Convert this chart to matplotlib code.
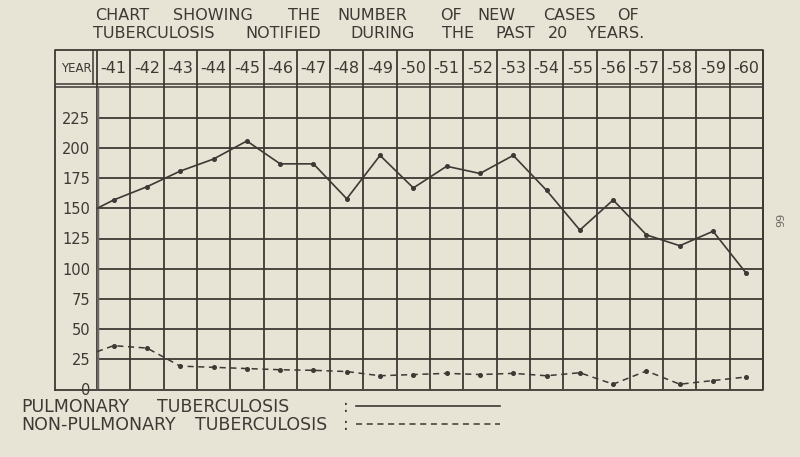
import matplotlib.pyplot as plt
import numpy as np

# colours of the scanned page
paper = '#e7e3d5'
ink = '#3d3934'

plt.rcParams['font.family'] = ['DejaVu Sans']

## data
years = np.arange(1941, 1961)
year_labels = ['-41', '-42', '-43', '-44', '-45', '-46', '-47', '-48', '-49', '-50',
               '-51', '-52', '-53', '-54', '-55', '-56', '-57', '-58', '-59', '-60']
pulmonary = [157, 168, 181, 191, 206, 187, 187, 158, 194, 167,
             185, 179, 194, 165, 132, 157, 128, 119, 131, 96]
non_pulmonary = [36, 34, 19, 18, 17, 16, 15.5, 14.5, 11, 12,
                 13, 12, 13, 11, 13.5, 4, 15, 4, 7, 10]
# value where each curve leaves the left axis
pulmonary_start = 150
non_pulmonary_start = 31
yticks = [0, 25, 50, 75, 100, 125, 150, 175, 200, 225]

## figure layout (pixels of an 800x457 image)
W, H = 800, 457
fig = plt.figure(figsize=(W / 100, H / 100), dpi=100, facecolor=paper)
ax = fig.add_axes([97 / W, 1 - 389 / H, (763 - 97) / W, (389 - 88) / H])
ax.set_facecolor(paper)
x0, x1 = years[0] - 0.5, years[-1] + 0.5
ymax = 250
ax.set_xlim(x0, x1)
ax.set_ylim(0, ymax)
for s in ax.spines.values():
    s.set_visible(False)

px_x = (x1 - x0) / (763 - 97)
px_y = ymax / (389 - 88)
head_top = ymax + 38 * px_y
year_left = x0 - 42 * px_x

## grid
edges = np.arange(x0, x1 + 0.5, 1.0)
ax.vlines(edges, 0, head_top, color=ink, lw=1.3, clip_on=False)
ax.hlines(yticks[1:], x0, x1, color=ink, lw=1.3)
ax.hlines([ymax + 0.5, ymax + 3.5], year_left, x1, color=ink, lw=1.1, clip_on=False)
# outer frame
ax.plot([year_left, x1, x1, year_left, year_left],
        [-1, -1, head_top, head_top, -1], color=ink, lw=1.3, clip_on=False)
ax.plot([x0, x0], [0, ymax], color='#6d6862', lw=3.2, solid_capstyle='butt')
ax.plot([x0 - 0.12, x0 - 0.12], [ymax + 3.5, head_top], color=ink, lw=1.1, clip_on=False)

## header row
head_mid = ymax + 20 * px_y
ax.text((year_left + x0) / 2, head_mid, 'YEAR', ha='center', va='center',
        fontsize=8.5, color=ink)
for yr, lab in zip(years, year_labels):
    ax.text(yr, head_mid, lab, ha='center', va='center', fontsize=11.5, color=ink)

## y labels
ax.set_xticks([])
ax.set_yticks(yticks)
ax.set_yticklabels([str(v) for v in yticks])
ax.tick_params(axis='y', length=0, pad=5, labelsize=10.5, labelcolor=ink)

## curves
ax.plot(np.r_[x0, years], np.r_[pulmonary_start, pulmonary], color=ink, lw=1.2,
        marker='o', markersize=2.6, markevery=list(range(1, 21)), zorder=3)
ax.plot(np.r_[x0, years], np.r_[non_pulmonary_start, non_pulmonary], color=ink, lw=1.1,
        ls=(0, (4, 3)), marker='o', markersize=2.6, markevery=list(range(1, 21)), zorder=3)


def words(items, y, size):
    # hand lettering is widely spaced, so each word gets its own spot
    for x, w in items:
        fig.text(x / W, 1 - y / H, w, ha='left', va='center', fontsize=size, color=ink)


## title
words([(95, 'CHART'), (173, 'SHOWING'), (288, 'THE'), (337, 'NUMBER'), (440, 'OF'),
       (477, 'NEW'), (543, 'CASES'), (617, 'OF')], 16, 11.5)
words([(93, 'TUBERCULOSIS'), (245, 'NOTIFIED'), (350, 'DURING'), (442, 'THE'),
       (495, 'PAST'), (548, '20'), (587, 'YEARS.')], 33, 11.5)

## key
words([(21, 'PULMONARY'), (157, 'TUBERCULOSIS'), (343, ':')], 407, 12.5)
words([(21, 'NON-PULMONARY'), (195, 'TUBERCULOSIS'), (343, ':')], 425, 12.5)
fig.add_artist(plt.Line2D([356 / W, 500 / W], [1 - 406 / H, 1 - 406 / H], color=ink, lw=1.2))
fig.add_artist(plt.Line2D([356 / W, 500 / W], [1 - 424 / H, 1 - 424 / H], color=ink, lw=1.1,
                          ls=(0, (4, 3))))

# page number printed sideways
fig.text(781 / W, 1 - 220 / H, '99', ha='center', va='center', rotation=90,
         fontsize=8, color='#6d6862')

fig.savefig('out.png', dpi=100, facecolor=paper)
